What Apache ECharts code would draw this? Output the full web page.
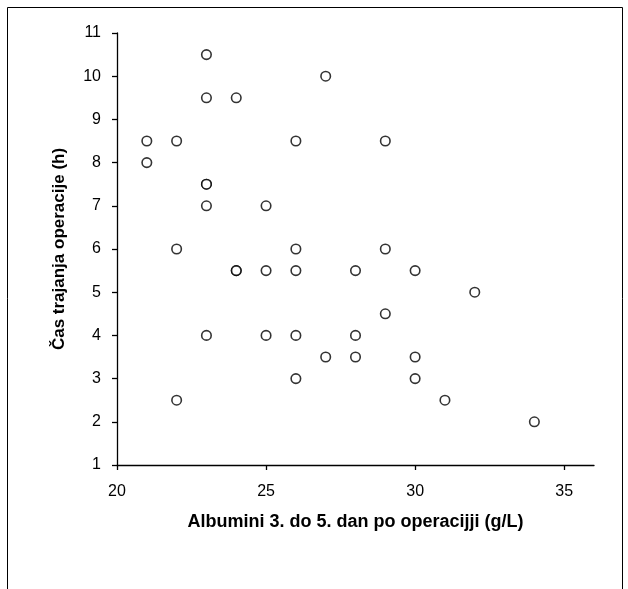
<!DOCTYPE html>
<html>
<head>
<meta charset="utf-8">
<script src="https://cdn.jsdelivr.net/npm/echarts@6/dist/echarts.min.js"></script>
<style>
html,body{margin:0;padding:0;background:#fff;}
#main{width:628px;height:589px;}
</style>
</head>
<body>
<div id="main"></div>
<script>
// albumini (g/L) in čas operacije (h)
var albumini=[21,21,22,22,22,23,23,23,23,23,23,24,24,24,25,25,25,26,26,26,26,26,27,27,28,28,28,29,29,29,30,30,30,31,32,34];
var casOperacije=[8.5,8,8.5,6,2.5,10.5,9.5,7.5,7.5,7,4,9.5,5.5,5.5,7,5.5,4,8.5,6,5.5,4,3,10,3.5,5.5,4,3.5,8.5,6,4.5,5.5,3.5,3,2.5,5,2];
var xTicks=[20,25,30,35];
var yTicks=[1,2,3,4,5,6,7,8,9,10,11];

var points=[];
for(var i=0;i<albumini.length;i++){
    points.push([albumini[i],casOperacije[i]]);
}

var myChart=echarts.init(document.getElementById('main'));

var option={
    animation:false,
    backgroundColor:'#fff',
    graphic:[{
        type:'rect',
        shape:{x:7.5,y:7.5,width:615,height:620},
        style:{fill:'none',stroke:'#000',lineWidth:1}
    }],
    grid:{left:117,top:33,right:34,bottom:124},
    xAxis:{
        type:'value',
        min:20,
        max:36,
        interval:5,
        name:'Albumini 3. do 5. dan po operacijji (g/L)',
        nameLocation:'middle',
        nameGap:48,
        nameTextStyle:{fontFamily:'Liberation Sans',fontSize:18,fontWeight:'bold',color:'#000'},
        splitLine:{show:false},
        axisLine:{lineStyle:{color:'#000',width:1.3}},
        axisTick:{customValues:xTicks,length:5,lineStyle:{color:'#000',width:1.3}},
        axisLabel:{customValues:xTicks,margin:19,fontFamily:'Liberation Sans',fontSize:16,color:'#000'}
    },
    yAxis:{
        type:'value',
        min:1,
        max:11,
        interval:1,
        name:'Čas trajanja operacije (h)',
        nameLocation:'middle',
        nameGap:49,
        nameTextStyle:{fontFamily:'Liberation Sans',fontSize:17,fontWeight:'bold',color:'#000'},
        splitLine:{show:false},
        axisLine:{show:true,lineStyle:{color:'#000',width:1.3}},
        axisTick:{show:true,customValues:yTicks,length:5,lineStyle:{color:'#000',width:1.3}},
        axisLabel:{customValues:yTicks,margin:16,fontFamily:'Liberation Sans',fontSize:16,color:'#000'}
    },
    series:[{
        type:'scatter',
        data:points,
        symbol:'circle',
        symbolSize:9.5,
        itemStyle:{color:'#fff',borderColor:'#000',borderWidth:1.6}
    }]
};

myChart.setOption(option);
</script>
</body>
</html>
